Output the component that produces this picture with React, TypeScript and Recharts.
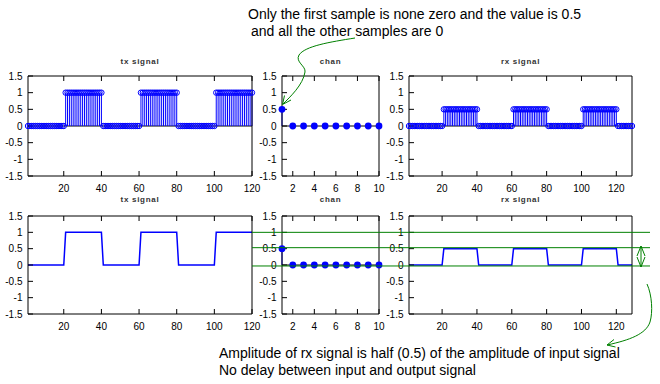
import React from 'react';
import { ComposedChart, XAxis, YAxis, Scatter, Line, ReferenceLine, ErrorBar } from 'recharts';

const FONT = '"Liberation Sans", Arial, Helvetica, sans-serif';
const BLUE = '#0000ff';
const GREEN = '#008000';

// transmitted signal, samples 1..120
const txSignal = [
  0, 0, 0, 0, 0, 0, 0, 0, 0, 0, 0, 0, 0, 0, 0, 0, 0, 0, 0, 0,
  1, 1, 1, 1, 1, 1, 1, 1, 1, 1, 1, 1, 1, 1, 1, 1, 1, 1, 1, 1,
  0, 0, 0, 0, 0, 0, 0, 0, 0, 0, 0, 0, 0, 0, 0, 0, 0, 0, 0, 0,
  1, 1, 1, 1, 1, 1, 1, 1, 1, 1, 1, 1, 1, 1, 1, 1, 1, 1, 1, 1,
  0, 0, 0, 0, 0, 0, 0, 0, 0, 0, 0, 0, 0, 0, 0, 0, 0, 0, 0, 0,
  1, 1, 1, 1, 1, 1, 1, 1, 1, 1, 1, 1, 1, 1, 1, 1, 1, 1, 1, 1,
];

// channel impulse response, samples 1..10
const chanTaps = [0.5, 0, 0, 0, 0, 0, 0, 0, 0, 0];

// received signal, samples 1..129
const rxSignal = [
  0, 0, 0, 0, 0, 0, 0, 0, 0, 0, 0, 0, 0, 0, 0, 0, 0, 0, 0, 0,
  0.5, 0.5, 0.5, 0.5, 0.5, 0.5, 0.5, 0.5, 0.5, 0.5, 0.5, 0.5, 0.5, 0.5, 0.5, 0.5, 0.5, 0.5, 0.5, 0.5,
  0, 0, 0, 0, 0, 0, 0, 0, 0, 0, 0, 0, 0, 0, 0, 0, 0, 0, 0, 0,
  0.5, 0.5, 0.5, 0.5, 0.5, 0.5, 0.5, 0.5, 0.5, 0.5, 0.5, 0.5, 0.5, 0.5, 0.5, 0.5, 0.5, 0.5, 0.5, 0.5,
  0, 0, 0, 0, 0, 0, 0, 0, 0, 0, 0, 0, 0, 0, 0, 0, 0, 0, 0, 0,
  0.5, 0.5, 0.5, 0.5, 0.5, 0.5, 0.5, 0.5, 0.5, 0.5, 0.5, 0.5, 0.5, 0.5, 0.5, 0.5, 0.5, 0.5, 0.5, 0.5,
  0, 0, 0, 0, 0, 0, 0, 0, 0,
];

const txTicks = [20, 40, 60, 80, 100, 120];
const chanTicks = [2, 4, 6, 8, 10];
const rxTicks = [20, 40, 60, 80, 100, 120];
const yTicks = [-1.5, -1, -0.5, 0, 0.5, 1, 1.5];
const txDomain = [1, 120];
const chanDomain = [1, 10];
const rxDomain = [1, 129];

// hand-drawn amplitude guide lines (value levels)
const amplitudeMarks = [1, 0.53, -0.03];

const toRows = (vals: number[]) => vals.map((v, i) => ({ n: i + 1, v, stem: [v, 0] }));

const YW = 40;
const RW = 1;
const MR = 12;
const TH = 6;
const TM = 18;
const XH = 26;

type Kind = 'stemOpen' | 'stemFilled' | 'line';

function Panel(props: {
  plotLeft: number;
  plotTop: number;
  plotW: number;
  plotH: number;
  values: number[];
  xDomain: number[];
  xTicks: number[];
  title: string;
  titleGap: number;
  kind: Kind;
}) {
  const { plotLeft, plotTop, plotW, plotH, values, xDomain, xTicks, title, titleGap, kind } = props;
  const data = toRows(values);
  const width = YW + plotW + RW + MR;
  const height = TM + TH + plotH + XH;
  const openShape = (p: any) => (
    <circle cx={p.cx} cy={p.cy} r={2.7} fill="none" stroke={BLUE} strokeWidth={1} />
  );
  const filledShape = (p: any) => <circle cx={p.cx} cy={p.cy} r={3.4} fill={BLUE} stroke="none" />;
  return (
    <div style={{ position: 'absolute', left: plotLeft - YW, top: plotTop - TM - TH }}>
      <ComposedChart
        width={width}
        height={height}
        data={data}
        margin={{ top: TM, right: MR, bottom: 0, left: 0 }}
        style={{ overflow: 'visible' }}
      >
        <XAxis
          xAxisId="b"
          dataKey="n"
          type="number"
          domain={xDomain}
          ticks={xTicks}
          interval={0}
          height={XH}
          tickSize={-5}
          tickMargin={13.5}
          stroke="#000"
          tick={{ fontSize: 10, fill: '#000', fontFamily: FONT }}
        />
        <XAxis
          xAxisId="t"
          orientation="top"
          dataKey="n"
          type="number"
          domain={xDomain}
          ticks={xTicks}
          interval={0}
          height={TH}
          tickSize={-5}
          tickFormatter={() => ''}
          stroke="#000"
          label={{
            value: title,
            position: 'top',
            offset: titleGap - TH,
            fontSize: 8,
            fontWeight: 'bold',
            letterSpacing: 0.7,
            fill: '#333',
            fontFamily: FONT,
          }}
        />
        <YAxis
          yAxisId="l"
          type="number"
          domain={[-1.5, 1.5]}
          ticks={yTicks}
          interval={0}
          width={YW}
          tickSize={-5}
          tickMargin={10.5}
          stroke="#000"
          tick={{ fontSize: 10, fill: '#000', fontFamily: FONT }}
        />
        <YAxis
          yAxisId="r"
          orientation="right"
          type="number"
          domain={[-1.5, 1.5]}
          ticks={yTicks}
          interval={0}
          width={RW}
          tickSize={-5}
          tickFormatter={() => ''}
          stroke="#000"
        />
        {kind !== 'line' && (
          <ReferenceLine xAxisId="b" yAxisId="l" y={0} stroke="#000" strokeWidth={1} />
        )}
        {kind === 'line' && (
          <Line
            xAxisId="b"
            yAxisId="l"
            dataKey="v"
            type="linear"
            stroke={BLUE}
            strokeWidth={1.5}
            dot={false}
            isAnimationActive={false}
          />
        )}
        {kind !== 'line' && (
          <Scatter
            xAxisId="b"
            yAxisId="l"
            dataKey="v"
            shape={kind === 'stemOpen' ? openShape : filledShape}
            isAnimationActive={false}
          >
            <ErrorBar dataKey="stem" direction="y" width={0} stroke={BLUE} strokeWidth={1} />
          </Scatter>
        )}
      </ComposedChart>
    </div>
  );
}

export default function App() {
  const top1 = 76;
  const h1 = 100;
  const top2 = 216;
  const h2 = 98;
  return (
    <div style={{ position: 'absolute', left: 0, top: 0, width: 660, height: 384, background: '#fff' }}>
      <Panel plotLeft={28} plotTop={top1} plotW={224} plotH={h1} values={txSignal} xDomain={txDomain} xTicks={txTicks} title="tx signal" titleGap={12} kind="stemOpen" />
      <Panel plotLeft={282} plotTop={top1} plotW={97} plotH={h1} values={chanTaps} xDomain={chanDomain} xTicks={chanTicks} title="chan" titleGap={12} kind="stemFilled" />
      <Panel plotLeft={409} plotTop={top1} plotW={223} plotH={h1} values={rxSignal} xDomain={rxDomain} xTicks={rxTicks} title="rx signal" titleGap={12} kind="stemOpen" />
      <Panel plotLeft={28} plotTop={top2} plotW={224} plotH={h2} values={txSignal} xDomain={txDomain} xTicks={txTicks} title="tx signal" titleGap={14} kind="line" />
      <Panel plotLeft={282} plotTop={top2} plotW={97} plotH={h2} values={chanTaps} xDomain={chanDomain} xTicks={chanTicks} title="chan" titleGap={14} kind="stemFilled" />
      <Panel plotLeft={409} plotTop={top2} plotW={223} plotH={h2} values={rxSignal} xDomain={rxDomain} xTicks={rxTicks} title="rx signal" titleGap={14} kind="line" />

      {/* amplitude guide lines, on the bottom-row value scale */}
      <div style={{ position: 'absolute', left: 0, top: 0 }}>
        <ComposedChart width={660} height={384} margin={{ top: top2, right: 0, bottom: 384 - top2 - h2, left: 0 }}>
          <XAxis type="number" dataKey="x" domain={[0, 660]} hide allowDataOverflow />
          <YAxis type="number" domain={[-1.5, 1.5]} hide allowDataOverflow />
          {amplitudeMarks.map((y) => (
            <ReferenceLine
              key={y}
              segment={[{ x: 252, y }, { x: 650, y }]}
              stroke={GREEN}
              strokeWidth={1}
            />
          ))}
        </ComposedChart>
      </div>

      <svg width={660} height={384} style={{ position: 'absolute', left: 0, top: 0 }}>
        <g fontFamily={FONT} fontSize={14} fill="#000">
          <text x={248} y={19}>Only the first sample is none zero and the value is 0.5</text>
          <text x={251} y={36}>and all the other samples are 0</text>
          <text x={219} y={357.5}>Amplitude of rx signal is half (0.5) of the amplitude of input signal</text>
          <text x={219} y={375}>No delay between input and output signal</text>
        </g>
        <g stroke={GREEN} strokeWidth={1} fill="none">
          <path d="M355,38 C330,42 305,46 299,55 C295,62 306,66 305,72 C303,85 290,97 283,104" />
          <path d="M284.5,95.5 L282.5,104.5 L291,100" />
          <path d="M641,246 L641,267" />
          <path d="M637,256 L641,246 L645,256" />
          <path d="M637,257 L641,267 L645,257" />
          <path d="M647,284 C652,295 653,312 650,322 C646,334 630,340 607,345" />
          <path d="M614,339.5 L607,345 L615.5,347" />
        </g>
      </svg>
    </div>
  );
}
